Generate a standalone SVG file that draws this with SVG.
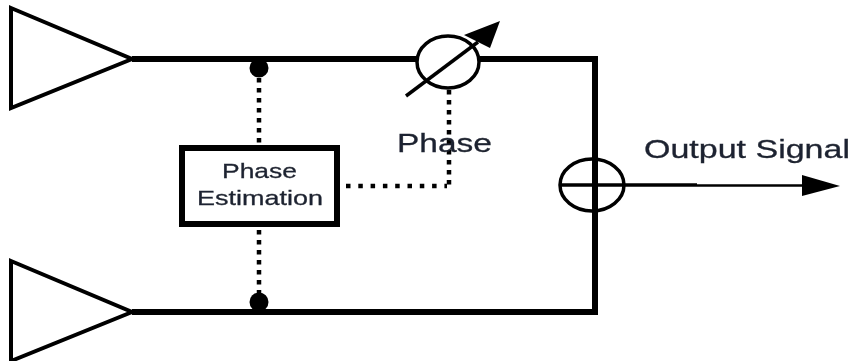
<svg xmlns="http://www.w3.org/2000/svg" width="854" height="361" viewBox="0 0 854 361">
<defs><filter id="soft" x="-5%" y="-5%" width="110%" height="110%"><feGaussianBlur stdDeviation="0.5"/></filter></defs>
<style>
.tri{fill:#fff;stroke:#000;stroke-width:4;stroke-linejoin:miter}
.wire{fill:none;stroke:#000;stroke-width:6}
.vdot{fill:none;stroke:#000;stroke-width:4.500;stroke-dasharray:4.500 5.500}
.hdot{fill:none;stroke:#000;stroke-width:4.500;stroke-dasharray:4.500 7.800}
text{font-family:"Liberation Sans",Arial,sans-serif;fill:#1f2430;stroke:#1f2430;stroke-width:.3}
</style>
<rect width="854" height="361" fill="#fff"/>
<g filter="url(#soft)">
<g id="connectors">
<path class="wire" d="M132 59H595V312H132"/>
<path class="vdot" d="M259 78V146M259 230V294M449 90V187"/>
<path class="hdot" d="M346 186H447"/>
<path d="M560 185H697" fill="none" stroke="#000" stroke-width="3.500"/>
<path d="M697 185.500H803" fill="none" stroke="#000" stroke-width="2.500"/>
<polygon points="802,175 840,186 802,196" fill="#000"/>
<circle cx="259" cy="68" r="9.500"/>
<circle cx="259" cy="302" r="9.500"/>
</g>
<g id="amp-top"><polygon class="tri" points="11,8 132,59 11,108"/></g>
<g id="amp-bottom"><polygon class="tri" points="11,261 132,312 11,361"/></g>
<g id="phase-shifter">
<ellipse cx="448" cy="62" rx="31" ry="26" fill="#fff" stroke="#000" stroke-width="3.500"/>
<path d="M406 96L478 42" stroke="#000" stroke-width="3.500" fill="none"/>
<polygon points="464,35 500,21 490,48" fill="#000"/>
</g>
<g id="phase-label"><text x="397" y="152" font-size="26" textLength="95" lengthAdjust="spacingAndGlyphs">Phase</text></g>
<g id="phase-estimation">
<rect x="182" y="148" width="155" height="76" fill="#fff" stroke="#000" stroke-width="6"/>
<text x="222" y="178" font-size="21" textLength="75" lengthAdjust="spacingAndGlyphs">Phase</text>
<text x="197" y="205" font-size="21" textLength="126" lengthAdjust="spacingAndGlyphs">Estimation</text>
</g>
<g id="summer">
<ellipse cx="592" cy="185" rx="32" ry="26" fill="none" stroke="#000" stroke-width="3.500"/>
</g>
<g id="output-label"><text x="644" y="158" font-size="25" textLength="206" lengthAdjust="spacingAndGlyphs">Output Signal</text></g>
</g>
</svg>
